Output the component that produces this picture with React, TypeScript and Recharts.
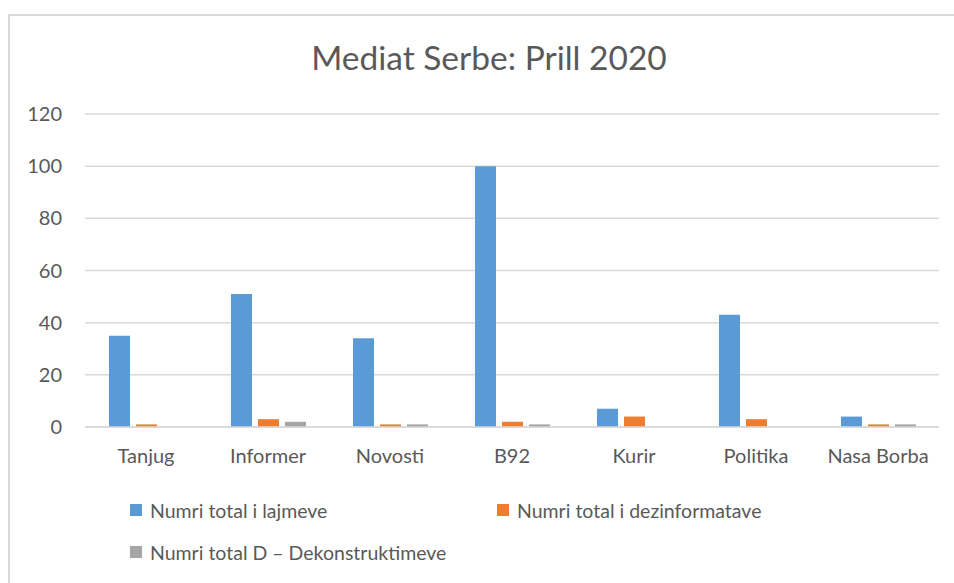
import React from 'react';
import { BarChart, Bar, XAxis, YAxis, CartesianGrid } from 'recharts';

const outlets = ['Tanjug', 'Informer', 'Novosti', 'B92', 'Kurir', 'Politika', 'Nasa Borba'];
const totalNews = [35, 51, 34, 100, 7, 43, 4];
const totalDisinfo = [1, 3, 1, 2, 4, 3, 1];
const totalDeconstructions = [0, 2, 1, 1, 0, 0, 1];
const yTicks = [0, 20, 40, 60, 80, 100, 120];

const seriesNames = [
  'Numri total i lajmeve',
  'Numri total i dezinformatave',
  'Numri total D – Dekonstruktimeve',
];
const colors = ['#5B9BD5', '#ED7D31', '#A5A5A5'];

const data = outlets.map((name, i) => ({
  name,
  news: totalNews[i],
  disinfo: totalDisinfo[i],
  decon: totalDeconstructions[i],
}));

const FONT = 'Lato, "Open Sans", sans-serif';
const TEXT = '#595959';

const LegendItem = ({ color, label, left, top }: { color: string; label: string; left: number; top: number }) => (
  <div style={{ position: 'absolute', left, top, display: 'flex', alignItems: 'center', height: 22 }}>
    <span style={{ width: 12, height: 12, background: color, marginRight: 8, display: 'inline-block' }} />
    <span style={{ fontSize: 19.5, color: TEXT, fontFamily: FONT, whiteSpace: 'nowrap' }}>{label}</span>
  </div>
);

const App: React.FC = () => {
  return (
    <div style={{ position: 'fixed', left: 0, top: 0, width: 954, height: 583, overflow: 'hidden', background: '#fff' }}>
      <div
        style={{
          position: 'absolute',
          left: 8,
          top: 14,
          width: 960,
          height: 600,
          borderTop: '2px solid #d9d9d9',
          borderLeft: '2px solid #d9d9d9',
          background: '#fff',
        }}
      >
        <div
          style={{
            position: 'absolute',
            left: 0,
            top: 21,
            width: 958,
            textAlign: 'center',
            fontFamily: FONT,
            fontSize: 33.5,
            lineHeight: '40px',
            color: TEXT,
          }}
        >
          Mediat Serbe: Prill 2020
        </div>
        <BarChart
          width={944}
          height={567}
          data={data}
          margin={{ top: 98, right: 15, left: 0, bottom: 126 }}
          barSize={21}
          barGap={6}
        >
          <CartesianGrid vertical={false} stroke="#d9d9d9" strokeWidth={1.5} />
          <XAxis
            dataKey="name"
            height={30}
            tickLine={false}
            axisLine={{ stroke: '#d9d9d9', strokeWidth: 1.5 }}
            tickSize={0}
            tickMargin={22}
            tick={{ fill: TEXT, fontSize: 20, fontFamily: FONT }}
            interval={0}
          />
          <YAxis
            width={75}
            domain={[0, 120]}
            ticks={yTicks}
            tickLine={false}
            axisLine={false}
            tickSize={0}
            tickMargin={23}
            tick={{ fill: TEXT, fontSize: 20, fontFamily: FONT }}
          />
          <Bar dataKey="news" name={seriesNames[0]} fill={colors[0]} isAnimationActive={false} />
          <Bar dataKey="disinfo" name={seriesNames[1]} fill={colors[1]} isAnimationActive={false} />
          <Bar dataKey="decon" name={seriesNames[2]} fill={colors[2]} isAnimationActive={false} />
        </BarChart>
        <LegendItem color={colors[0]} label={seriesNames[0]} left={120} top={483} />
        <LegendItem color={colors[1]} label={seriesNames[1]} left={487} top={483} />
        <LegendItem color={colors[2]} label={seriesNames[2]} left={120} top={525} />
      </div>
    </div>
  );
};

export default App;
